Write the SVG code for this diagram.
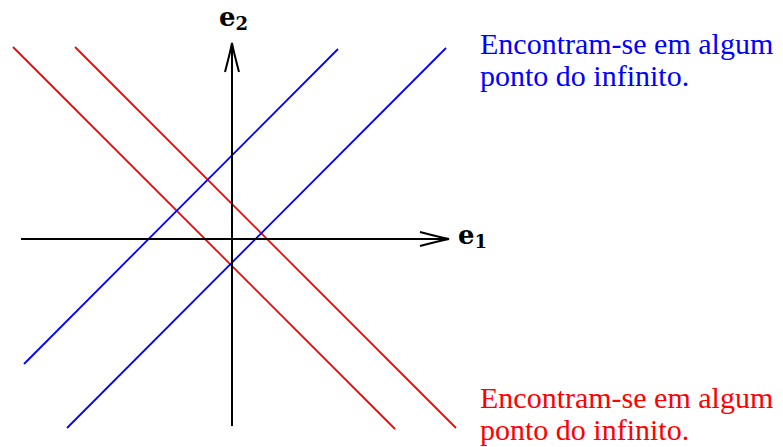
<svg xmlns="http://www.w3.org/2000/svg" width="783" height="447" viewBox="0 0 783 447">
<defs>
<style>
.axis{stroke:#000;stroke-width:2;fill:none}
.red{stroke:#ff0000;stroke-width:1.8;fill:none}
.blue{stroke:#0000ff;stroke-width:1.8;fill:none}
.lab{font-family:"DejaVu Serif","Liberation Serif",serif;font-weight:bold;fill:#000}
.note{font-family:"Liberation Serif","DejaVu Serif",serif;font-size:30px}
</style>
<marker id="arr" markerUnits="userSpaceOnUse" markerWidth="40" markerHeight="20" viewBox="-32 -10 36 20" refX="0" refY="0" orient="auto" overflow="visible">
<path d="M-29,-7 Q-8,-1.5 0,0 Q-8,1.5 -29,7" fill="none" stroke="#000" stroke-width="2"/>
</marker>
</defs>
<rect width="783" height="447" fill="#fff"/>
<g id="connectors">
<line class="red" x1="13" y1="47" x2="395" y2="429"/>
<line class="red" x1="75" y1="47" x2="456" y2="428"/>
<line class="blue" x1="24" y1="364" x2="338" y2="49"/>
<line class="blue" x1="67" y1="428" x2="446" y2="48"/>
</g>
<g id="axis-e1">
<line class="axis" x1="21" y1="239" x2="449" y2="239" marker-end="url(#arr)"/>
<text class="lab" x="458" y="244" font-size="26">e<tspan font-size="18" dy="4">1</tspan></text>
</g>
<g id="axis-e2">
<line class="axis" x1="232" y1="426" x2="232" y2="43" marker-end="url(#arr)"/>
<text class="lab" x="219" y="26" font-size="26">e<tspan font-size="18" dy="4">2</tspan></text>
</g>
<g id="note-blue">
<text class="note" fill="#0000ff" x="480" y="54">Encontram-se em algum</text>
<text class="note" fill="#0000ff" x="480" y="86">ponto do infinito.</text>
</g>
<g id="note-red">
<text class="note" fill="#ff0000" x="480" y="408">Encontram-se em algum</text>
<text class="note" fill="#ff0000" x="480" y="440">ponto do infinito.</text>
</g>
</svg>
